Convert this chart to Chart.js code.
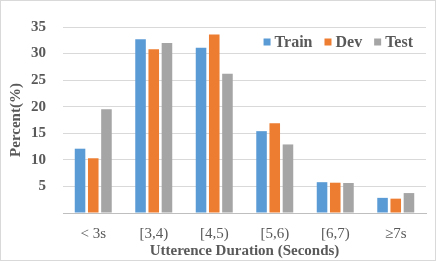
<!DOCTYPE html>
<html>
<head>
<meta charset="utf-8">
<script src="https://cdn.jsdelivr.net/npm/chart.js@4/dist/chart.umd.min.js"></script>
<style>
  html, body { margin: 0; padding: 0; background: #fff; }
  #wrap { width: 434px; height: 259px; border: 1px solid #d9d9d9; position: relative; }
</style>
</head>
<body>
<div id="wrap"><canvas id="chart" width="434" height="259"></canvas></div>
<script>
// Utterance duration distribution (percent)
const categories = ['< 3s', '[3,4)', '[4,5)', '[5,6)', '[6,7)', '\u22657s'];
const trainValues = [12.1, 32.7, 31.1, 15.4, 5.8, 2.85];
const devValues = [10.3, 30.8, 33.6, 16.9, 5.7, 2.7];
const testValues = [19.5, 32.0, 26.2, 12.9, 5.65, 3.75];
const yTicks = [0, 5, 10, 15, 20, 25, 30, 35];

const grey = '#595959';
const serif = '"Liberation Serif", "Times New Roman", serif';

const makeSet = (label, data, color) => ({
  label: label,
  data: data,
  backgroundColor: color,
  borderWidth: 0,
  barPercentage: 0.8,
  categoryPercentage: 0.655
});

// legend drawn inside the plot area, top right (like the Excel original)
const insideLegend = {
  id: 'insideLegend',
  afterDraw(chart) {
    const ctx = chart.ctx;
    const area = chart.chartArea;
    const box = 7, gap = 4, spacing = 12;
    ctx.save();
    ctx.font = 'bold 16px ' + serif;
    ctx.textBaseline = 'middle';
    const items = chart.data.datasets.map(ds => ({
      text: ds.label,
      color: ds.backgroundColor,
      w: box + gap + ctx.measureText(ds.label).width
    }));
    const total = items.reduce((s, it) => s + it.w, 0) + spacing * (items.length - 1);
    let x = area.right - 13 - total;
    const y = area.top + 15;
    items.forEach(it => {
      ctx.fillStyle = it.color;
      ctx.fillRect(x, y - box / 2, box, box);
      ctx.fillStyle = grey;
      ctx.fillText(it.text, x + box + gap, y + 1);
      x += it.w + spacing;
    });
    ctx.restore();
  }
};

new Chart(document.getElementById('chart'), {
  type: 'bar',
  data: {
    labels: categories,
    datasets: [
      makeSet('Train', trainValues, '#5b9bd5'),
      makeSet('Dev', devValues, '#ed7d31'),
      makeSet('Test', testValues, '#a5a5a5')
    ]
  },
  plugins: [insideLegend],
  options: {
    responsive: false,
    animation: false,
    layout: { padding: { top: 16, right: 9, left: 0, bottom: 0 } },
    plugins: {
      tooltip: { enabled: false },
      legend: { display: false }
    },
    scales: {
      x: {
        grid: { display: false, drawTicks: false },
        border: { color: '#bfbfbf', width: 1 },
        ticks: {
          color: grey,
          padding: 12,
          font: { family: serif, size: 15 }
        },
        title: {
          display: true,
          text: 'Utterence Duration (Seconds)',
          color: grey,
          padding: { top: 0, bottom: 0 },
          font: { family: serif, size: 15, weight: 'bold' }
        },
        afterFit: (scale) => { scale.height = 47; }
      },
      y: {
        min: 0,
        max: 35,
        afterBuildTicks: (scale) => { scale.ticks = yTicks.map(v => ({ value: v })); },
        grid: { color: '#d9d9d9', drawTicks: false },
        border: { display: false },
        ticks: {
          color: grey,
          padding: 17,
          font: { family: serif, size: 15, weight: 'bold' },
          callback: (v) => (v === 0 ? '' : v)
        },
        title: {
          display: true,
          text: 'Percent(%)',
          color: grey,
          padding: { top: 6, bottom: 0 },
          font: { family: serif, size: 15, weight: 'bold' }
        },
        afterFit: (scale) => { scale.width = 62; }
      }
    }
  }
});
</script>
</body>
</html>
